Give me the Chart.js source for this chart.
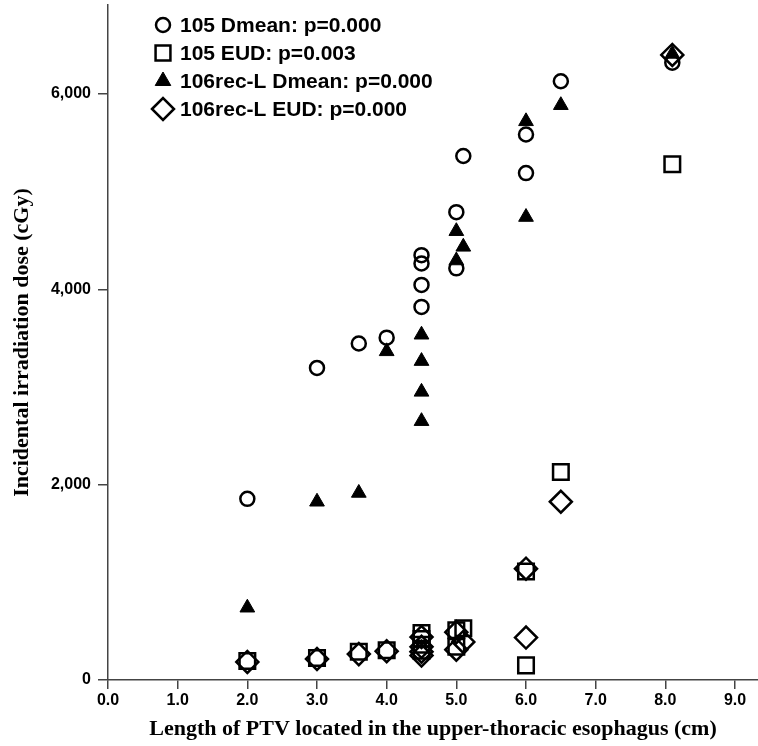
<!DOCTYPE html>
<html>
<head>
<meta charset="utf-8">
<script src="https://cdn.jsdelivr.net/npm/chart.js@4.4.0/dist/chart.umd.min.js"></script>
<style>
  body { margin: 0; background: #fff; }
  #wrap { width: 758px; height: 746px; }
</style>
</head>
<body>
<div id="wrap"><canvas id="chart" width="758" height="746"></canvas></div>
<script>
// Length of PTV in the upper-thoracic esophagus (cm), one entry per patient
const ptvLength = [2.0, 3.0, 3.6, 4.0, 4.5, 4.5, 4.5, 4.5, 5.0, 5.0, 5.1, 6.0, 6.0, 6.5, 8.1];

// Incidental irradiation dose (cGy), same patient order as ptvLength
const dmean105 = [1855, 3195, 3445, 3505, 4350, 4265, 4045, 3820, 4790, 4215, 5365, 5585, 5190, 6130, 6320];
const eud105 = [195, 225, 290, 305, 480, 420, 360, 300, 510, 340, 530, 1110, 150, 2130, 5280];
const dmean106 = [740, 1825, 1915, 3365, 3535, 3265, 2950, 2650, 4595, 4295, 4435, 5720, 4740, 5885, 6410];
const eud106 = [185, 215, 265, 295, 440, 340, 290, 250, 490, 310, 390, 1140, 435, 1825, 6400];

const seriesLabels = [
  '105 Dmean: p=0.000',
  '105 EUD: p=0.003',
  '106rec-L Dmean: p=0.000',
  '106rec-L EUD: p=0.000'
];

const xTicks = [0, 1, 2, 3, 4, 5, 6, 7, 8, 9];
const yTicks = [0, 2000, 4000, 6000];

const toPoints = (values) => ptvLength.map((x, i) => ({ x: x, y: values[i] }));

const hollow = 'rgba(0,0,0,0)';

// Legend drawn inside the plot, top left, like the SPSS output
const plotLegend = {
  id: 'plotLegend',
  afterDatasetsDraw(chart) {
    const ctx = chart.ctx;
    ctx.save();
    chart.data.datasets.forEach((ds, i) => {
      const y = 25 + i * 28;
      ctx.fillStyle = ds.pointBackgroundColor;
      ctx.strokeStyle = ds.pointBorderColor;
      ctx.lineWidth = ds.pointBorderWidth;
      Chart.helpers.drawPoint(ctx, {
        pointStyle: ds.pointStyle,
        radius: ds.legendRadius,
        borderWidth: ds.pointBorderWidth,
        rotation: 0
      }, 163, y);
      ctx.fillStyle = '#000';
      ctx.font = 'bold 21px "Liberation Sans", Arial, sans-serif';
      ctx.textBaseline = 'middle';
      ctx.textAlign = 'left';
      ctx.fillText(ds.label, 180, y + 1);
    });
    ctx.restore();
  }
};

const tickFont = { family: '"Liberation Sans", Arial, sans-serif', size: 16, weight: 'bold' };
const titleFont = { family: '"Liberation Serif", "Times New Roman", serif', size: 22, weight: 'bold' };

new Chart(document.getElementById('chart'), {
  type: 'scatter',
  data: {
    datasets: [
      {
        label: seriesLabels[0],
        data: toPoints(dmean105),
        pointStyle: 'circle',
        pointRadius: 7,
        legendRadius: 7,
        pointBackgroundColor: hollow,
        pointBorderColor: '#000',
        pointBorderWidth: 2.5,
        order: 3
      },
      {
        label: seriesLabels[1],
        data: toPoints(eud105),
        pointStyle: 'rect',
        pointRadius: 11,
        legendRadius: 10.5,
        pointBackgroundColor: hollow,
        pointBorderColor: '#000',
        pointBorderWidth: 2.5,
        order: 2
      },
      {
        label: seriesLabels[2],
        data: toPoints(dmean106),
        pointStyle: 'triangle',
        pointRadius: 8.5,
        legendRadius: 9,
        pointBackgroundColor: '#000',
        pointBorderColor: '#000',
        pointBorderWidth: 1,
        order: 1
      },
      {
        label: seriesLabels[3],
        data: toPoints(eud106),
        pointStyle: 'rectRot',
        pointRadius: 11,
        legendRadius: 11,
        pointBackgroundColor: hollow,
        pointBorderColor: '#000',
        pointBorderWidth: 2.5,
        order: 0
      }
    ]
  },
  options: {
    responsive: false,
    devicePixelRatio: 1,
    animation: false,
    layout: { autoPadding: false, padding: { top: 5, right: 0, left: 0, bottom: 0 } },
    plugins: {
      legend: { display: false },
      tooltip: { enabled: false }
    },
    scales: {
      x: {
        type: 'linear',
        min: 0,
        max: 9.33,
        afterBuildTicks: (s) => { s.ticks = xTicks.map(v => ({ value: v })); },
        afterFit: (s) => { s.height = 66; s.paddingRight = 0; s.paddingLeft = 0; },
        ticks: {
          callback: (v) => Number(v).toFixed(1),
          font: tickFont,
          color: '#000',
          padding: 2,
          maxRotation: 0,
          autoSkip: false
        },
        grid: { drawOnChartArea: false, drawTicks: true, tickLength: 9, color: '#444', lineWidth: 1.5 },
        border: { display: true, color: '#444', width: 1.5 },
        title: {
          display: true,
          text: 'Length of PTV located in the upper-thoracic esophagus (cm)',
          font: titleFont,
          color: '#000',
          padding: { top: 0, bottom: 3 }
        }
      },
      y: {
        min: 0,
        max: 6911,
        afterBuildTicks: (s) => { s.ticks = yTicks.map(v => ({ value: v })); },
        afterFit: (s) => { s.width = 108; s.paddingTop = 0; s.paddingBottom = 0; },
        ticks: {
          callback: (v) => Number(v).toLocaleString('en-US'),
          font: tickFont,
          color: '#000',
          padding: 7,
          autoSkip: false
        },
        grid: { drawOnChartArea: false, drawTicks: true, tickLength: 10, color: '#444', lineWidth: 1.5 },
        border: { display: true, color: '#444', width: 1.5 },
        title: {
          display: true,
          text: 'Incidental irradiation dose (cGy)',
          font: titleFont,
          color: '#000',
          padding: { top: 9, bottom: 0 }
        }
      }
    }
  },
  plugins: [plotLegend]
});
</script>
</body>
</html>
